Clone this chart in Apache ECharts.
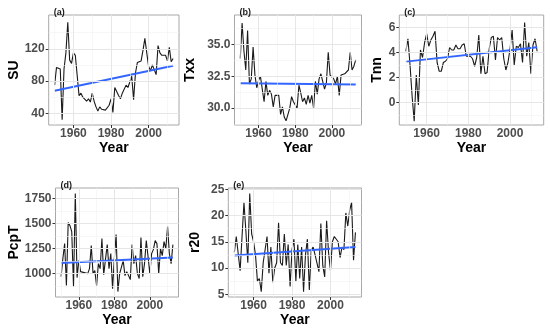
<!DOCTYPE html>
<html><head><meta charset="utf-8">
<script src="https://cdn.jsdelivr.net/npm/echarts@6/dist/echarts.min.js"></script>
<style>html,body{margin:0;padding:0;background:#fff}#c{width:550px;height:332px}</style>
</head><body><div id="c"></div>
<script>
// ---- data ----
const years = [1950,1951,1952,1953,1954,1955,1956,1957,1958,1959,
  1960,1961,1962,1963,1964,1965,1966,1967,1968,1969,
  1970,1971,1972,1973,1974,1975,1976,1977,1978,1979,
  1980,1981,1982,1983,1984,1985,1986,1987,1988,1989,
  1990,1991,1992,1993,1994,1995,1996,1997,1998,1999,
  2000,2001,2002,2003,2004,2005,2006,2007,2008,2009,
  2010,2011,2012,2013];
const su = [75,97,99,95,32,95,115,153,106,102,
  115,112,110,62,65,60,58,55,58,54,
  65,55,48,43,48,45,44,44,44,50,
  58,41,72,70,62,58,65,63,75,72,
  70,86,57,90,103,104,105,118,133,115,
  98,93,100,102,88,124,115,112,110,112,
  105,122,104,108];
const txx = [33.9,36.7,34.5,33.0,36.1,31.9,32.3,34.8,32.6,31.6,
  32.2,32.5,31.5,30.5,32.1,31.0,31.4,31.1,30.1,31.0,
  31.0,31.0,29.5,30.1,29.3,29.0,29.0,30.0,30.9,30.5,
  30.5,30.0,31.8,31.2,30.5,30.8,30.3,31.0,30.4,31.0,
  30.0,32.1,31.1,32.3,32.7,32.7,31.5,32.0,34.4,32.6,
  32.5,32.3,31.9,32.5,31.0,32.6,32.5,32.7,32.8,33.0,
  34.4,33.0,33.3,33.8];
const tnn = [4.1,5.1,3.0,0.5,-1.5,2.2,-0.2,4.2,3.6,4.8,
  5.5,4.5,5.0,5.3,5.7,3.2,2.5,2.5,3.2,3.3,
  3.5,4.4,4.2,4.2,4.6,4.3,4.3,4.6,4.7,3.7,
  3.7,3.7,3.5,2.9,3.6,5.4,2.3,3.7,2.3,2.4,
  4.3,5.2,5.3,3.4,5.2,5.0,5.2,3.5,2.6,3.2,
  4.3,5.8,3.0,4.5,4.4,4.7,3.2,6.4,3.7,4.8,
  2.3,4.6,5.1,4.1];
const pcpt = [970,1150,1300,880,1510,1480,1420,870,1800,960,
  1130,1020,1000,1010,1020,1000,1050,1280,1000,1030,
  880,1100,1050,1350,990,1000,1290,1050,1200,850,
  1150,1390,820,1000,1000,1130,980,1020,1000,940,
  1290,1100,1180,1000,950,1360,970,1100,1330,1170,
  1000,1200,1240,1330,1300,1000,1250,1180,1320,1250,
  1470,1200,1100,1290];
const r20 = [13,16,16,9.5,16,22.5,17,11,24.2,16.5,
  15,12.5,7.5,8,5.5,11,11,16,9,14,
  7.3,10,11,18.6,11,10.5,16.5,10.5,14.5,6.5,
  13.5,15.5,7.5,14.5,8,14,5.5,12.5,15.5,5.8,
  13.5,14,12.5,12.5,9.3,18.5,10.5,8.3,19,13,
  9.5,15,16,16,15,12,14,13.5,20.5,18,
  21,22.5,11.5,16.8];
// linear trend (read at first and last year)
const trendYears = [1950, 2013];
const suTrend = [68, 99];
const txxTrend = [31.95, 31.85];
const tnnTrend = [3.27, 4.42];
const pcptTrend = [1105, 1162];
const r20Trend = [12.4, 14.0];
// axes
const panelLabels = ['(a)','(b)','(c)','(d)','(e)'];
const yNames = ['SU','Txx','Tnn','PcpT','r20'];
const xTicks = [1960, 1980, 2000];
const xMinor = [1950, 1970, 1990, 2010];
const suTicks = [40, 80, 120], suMinor = [60, 100, 140];
const txxTicks = [30.0, 32.5, 35.0], txxMinor = [28.75, 31.25, 33.75, 36.25];
const tnnTicks = [0, 2, 4, 6], tnnMinor = [-1, 1, 3, 5];
const pcptTicks = [1000, 1250, 1500, 1750], pcptMinor = [875, 1125, 1375, 1625];
const r20Ticks = [5, 10, 15, 20, 25], r20Minor = [7.5, 12.5, 17.5, 22.5];

// ---- layout / style ----
const panels = [
  {vals: su, trend: suTrend, ticks: suTicks, minor: suMinor, ymin: 25.5, ymax: 162, dec: 0,
   left: 48.7, top: 15, width: 130.3, height: 110, nameGap: 27},
  {vals: txx, trend: txxTrend, ticks: txxTicks, minor: txxMinor, ymin: 28.67, ymax: 37.33, dec: 1,
   left: 234.5, top: 15, width: 127, height: 110, nameGap: 37},
  {vals: tnn, trend: tnnTrend, ticks: tnnTicks, minor: tnnMinor, ymin: -1.8, ymax: 7.0, dec: 0,
   left: 399.3, top: 15, width: 144.4, height: 110, nameGap: 15},
  {vals: pcpt, trend: pcptTrend, ticks: pcptTicks, minor: pcptMinor, ymin: 766, ymax: 1856, dec: 0,
   left: 55.5, top: 188, width: 123, height: 109, nameGap: 34},
  {vals: r20, trend: r20Trend, ticks: r20Ticks, minor: r20Minor, ymin: 4.48, ymax: 25.25, dec: 0,
   left: 228.3, top: 188, width: 133.2, height: 109, nameGap: 26}
];
const xMin = 1946.85, xMax = 2016.15;
const FONT = 'Liberation Sans, Arial, sans-serif';
const majorStyle = {color: '#e6e6e6', width: 1, type: 'solid'};
const minorStyle = {color: '#f1f1f1', width: 0.6, type: 'solid'};

const grid = [], xAxis = [], yAxis = [], series = [], title = [];
panels.forEach((p, i) => {
  grid.push({left: p.left, top: p.top, width: p.width, height: p.height,
    show: true, borderColor: '#a8a8a8', borderWidth: 1, backgroundColor: '#fff'});
  title.push({text: panelLabels[i], left: p.left, top: p.top - 12,
    textStyle: {fontSize: 9, fontWeight: 'bold', color: '#1a1a1a', fontFamily: FONT}});
  xAxis.push({gridIndex: i, type: 'value', min: xMin, max: xMax,
    axisLine: {show: false}, splitLine: {show: false},
    axisTick: {show: true, customValues: xTicks, length: 3, lineStyle: {color: '#333'}},
    axisLabel: {customValues: xTicks, margin: 3, fontSize: 12, fontWeight: 'bold',
      color: '#4d4d4d', fontFamily: FONT, formatter: v => String(Math.round(v))},
    name: 'Year', nameLocation: 'middle', nameGap: 16,
    nameTextStyle: {fontSize: 14, fontWeight: 'bold', color: '#000', fontFamily: FONT, verticalAlign: 'top'}});
  yAxis.push({gridIndex: i, type: 'value', min: p.ymin, max: p.ymax,
    axisLine: {show: false}, splitLine: {show: false},
    axisTick: {show: true, customValues: p.ticks, length: 3, lineStyle: {color: '#333'}},
    axisLabel: {customValues: p.ticks, margin: 4, fontSize: 12, fontWeight: 'bold',
      color: '#4d4d4d', fontFamily: FONT, formatter: v => v.toFixed(p.dec)},
    name: yNames[i], nameLocation: 'middle', nameGap: p.nameGap, nameRotate: 90,
    nameTextStyle: {fontSize: 14, fontWeight: 'bold', color: '#000', fontFamily: FONT}});
  const ml = [];
  xMinor.forEach(v => ml.push({xAxis: v, lineStyle: minorStyle}));
  p.minor.forEach(v => ml.push({yAxis: v, lineStyle: minorStyle}));
  xTicks.forEach(v => ml.push({xAxis: v, lineStyle: majorStyle}));
  p.ticks.forEach(v => ml.push({yAxis: v, lineStyle: majorStyle}));
  series.push({type: 'line', xAxisIndex: i, yAxisIndex: i, data: [], z: 1, silent: true,
    markLine: {silent: true, symbol: ['none', 'none'], label: {show: false}, animation: false, data: ml}});
  series.push({type: 'line', xAxisIndex: i, yAxisIndex: i, z: 3, showSymbol: false,
    lineStyle: {color: '#1a1a1a', width: 1.1}, data: years.map((y, k) => [y, p.vals[k]])});
  series.push({type: 'line', xAxisIndex: i, yAxisIndex: i, z: 4, showSymbol: false,
    lineStyle: {color: '#3366FF', width: 2}, data: trendYears.map((y, k) => [y, p.trend[k]])});
});

const chart = echarts.init(document.getElementById('c'), null, {renderer: 'canvas'});
chart.setOption({animation: false, title, grid, xAxis, yAxis, series});
</script></body></html>
